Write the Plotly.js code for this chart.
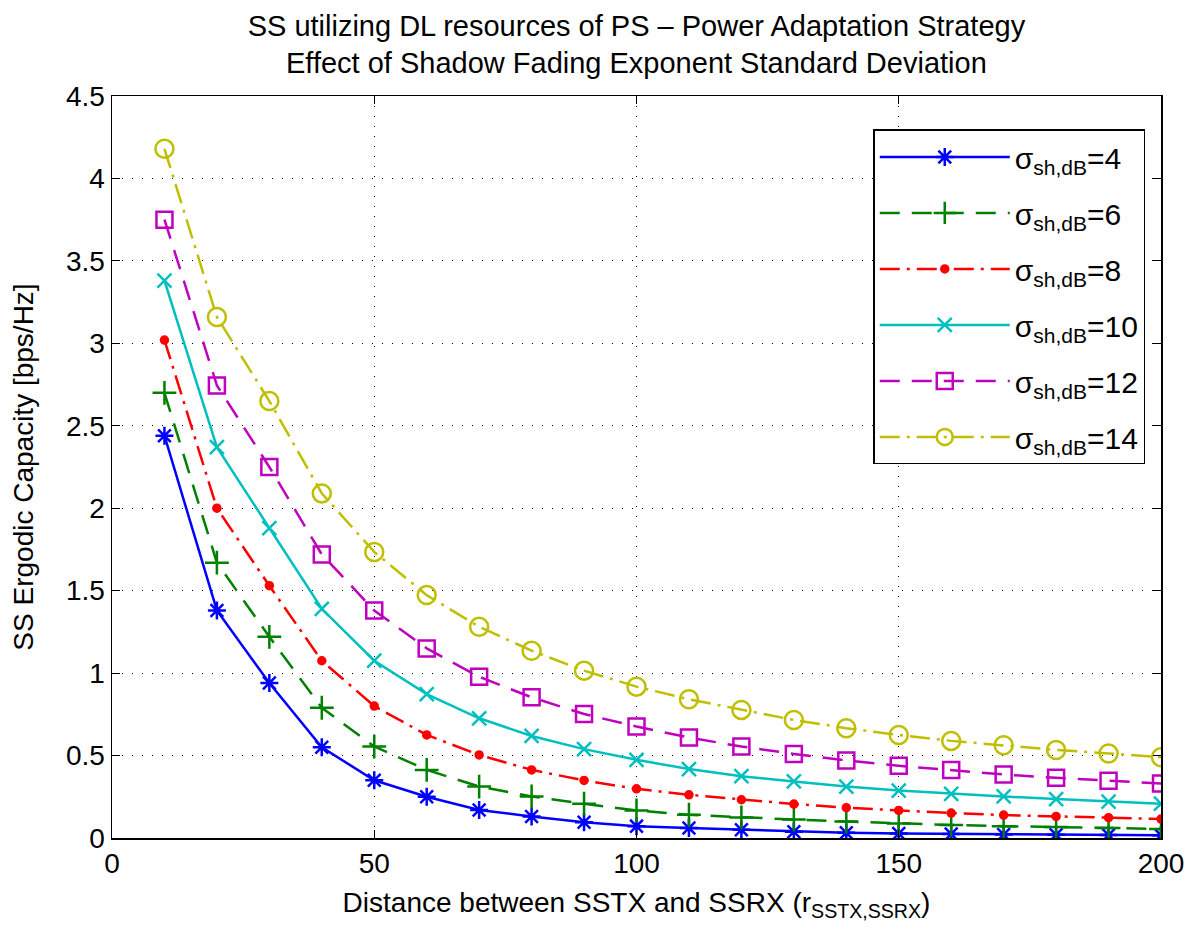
<!DOCTYPE html>
<html>
<head>
<meta charset="utf-8">
<script src="https://cdn.plot.ly/plotly-3.0.1.min.js"></script>
<style>html,body{margin:0;padding:0;background:#fff;}#chart{width:1194px;height:938px;}</style>
</head>
<body>
<div id="chart"></div>
<script>
const distance = [10,20,30,40,50,60,70,80,90,100,110,120,130,140,150,160,170,180,190,200];
const sigmaLabels = ['4','6','8','10','12','14'];
const cap_s4  = [2.44,1.38,0.94,0.55,0.35,0.25,0.17,0.13,0.095,0.072,0.06,0.05,0.038,0.032,0.027,0.024,0.021,0.02,0.018,0.016];
const cap_s6  = [2.70,1.67,1.22,0.79,0.555,0.413,0.312,0.252,0.208,0.167,0.141,0.125,0.112,0.100,0.088,0.079,0.072,0.066,0.060,0.055];
const cap_s8  = [3.02,2.00,1.53,1.075,0.80,0.625,0.504,0.413,0.349,0.298,0.262,0.232,0.206,0.184,0.167,0.151,0.139,0.131,0.123,0.115];
const cap_s10 = [3.38,2.37,1.88,1.39,1.075,0.873,0.726,0.619,0.539,0.474,0.418,0.375,0.343,0.312,0.288,0.268,0.252,0.236,0.220,0.208];
const cap_s12 = [3.75,2.745,2.25,1.72,1.38,1.15,0.978,0.853,0.752,0.676,0.609,0.555,0.51,0.47,0.438,0.413,0.385,0.365,0.347,0.33];
const cap_s14 = [4.18,3.16,2.65,2.09,1.735,1.473,1.281,1.136,1.015,0.918,0.841,0.777,0.716,0.666,0.625,0.589,0.563,0.534,0.513,0.49];

const series = [cap_s4, cap_s6, cap_s8, cap_s10, cap_s12, cap_s14];
const colors = ['#0000FF','#008000','#FF0000','#00BFBF','#BF00BF','#BFBF00'];
const dashes = ['solid','20px,12px','20px,7px,3px,7px','solid','20px,12px','20px,7px,3px,7px'];
const symbols = ['asterisk-open','cross-thin-open','circle','x-thin-open','square-open','circle-open'];
const msizes = [15,17,7,14,16,18];

const traces = series.map((ys,i)=>({
  x: distance, y: ys, type:'scatter', mode:'lines+markers',
  name: '\u03c3<sub>sh,dB</sub>=' + sigmaLabels[i],
  legendgroup: 'g' + i,
  line: {color: colors[i], width: 2.5, dash: dashes[i]},
  marker: {symbol: symbols[i], size: msizes[i], color: colors[i], line:{color: colors[i], width: 2.5}}
}));

const font = "Liberation Sans, Arial, sans-serif";
const layout = {
  width: 1194, height: 938,
  margin: {l:112, r:33, t:96, b:100},
  paper_bgcolor:'#fff', plot_bgcolor:'#fff',
  font: {family: font, size: 28, color:'#000'},
  title: {text: 'SS utilizing DL resources of PS \u2013 Power Adaptation Strategy<br>Effect of Shadow Fading Exponent Standard Deviation',
          x: 0.533, xanchor:'center', y: 0.962, yanchor:'top', font:{family:font, size:29, color:'#000'}},
  xaxis: {range:[0,200], tickvals:[0,50,100,150,200], ticks:'inside', ticklen:8, tickcolor:'#000',
          showline:true, linecolor:'#000', linewidth:1.5, mirror:'ticks',
          showgrid:true, gridcolor:'#000', griddash:'1px,9px', gridwidth:1.2, zeroline:false,
          tickfont:{size:28}, title:{text:'Distance between SSTX and SSRX (r<sub>SSTX,SSRX</sub>)', font:{size:28}, standoff:14}},
  yaxis: {range:[0,4.5], tickvals:[0,0.5,1,1.5,2,2.5,3,3.5,4,4.5], ticktext:['0','0.5','1','1.5','2','2.5','3','3.5','4','4.5'],
          ticks:'inside', ticklen:8, tickcolor:'#000',
          showline:true, linecolor:'#000', linewidth:1.5, mirror:'ticks',
          showgrid:true, gridcolor:'#000', griddash:'1px,9px', gridwidth:1.2, zeroline:false,
          tickfont:{size:28}, title:{text:'SS Ergodic Capacity [bps/Hz]', font:{size:28}, standoff:24}},
  legend: {x:0.985, xanchor:'right', y:0.955, yanchor:'top', bgcolor:'#fff', bordercolor:'#000', borderwidth:1.5,
           font:{size:30}, itemwidth:130, tracegroupgap:14, traceorder:'grouped'},
  showlegend: true
};
Plotly.newPlot('chart', traces, layout, {displayModeBar:false, staticPlot:true});
</script>
</body>
</html>
